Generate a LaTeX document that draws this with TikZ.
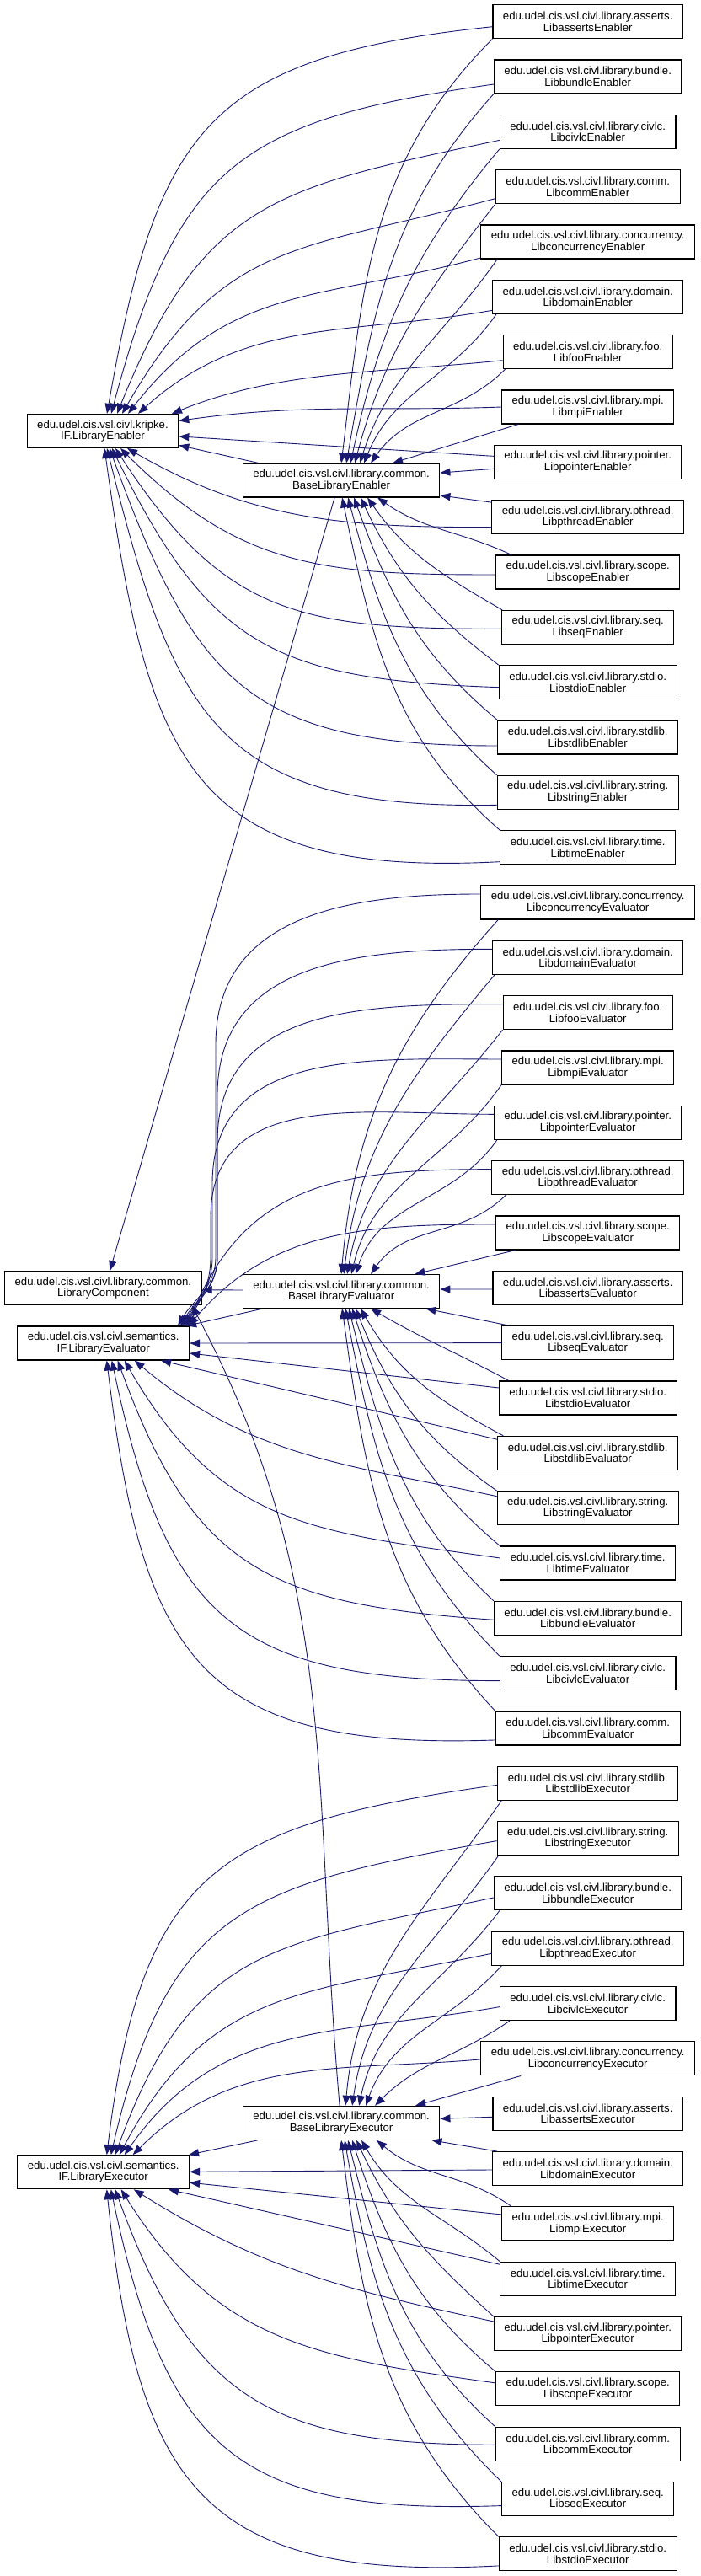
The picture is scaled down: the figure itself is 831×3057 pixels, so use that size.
\documentclass[tikz,border=0pt]{standalone}
\usepackage{fontspec}
\setmainfont{Liberation Sans}
\usetikzlibrary{calc,arrows.meta}
\definecolor{edgeblue}{RGB}{25,25,112}
\begin{document}
\begin{tikzpicture}[x=1pt,y=1pt,
  cls/.style={draw=black,line width=1.1pt,fill=white,align=center,
    font=\fontsize{13.2}{13.6}\selectfont,inner xsep=12pt,inner ysep=0pt,minimum height=40pt},
  inh/.style={draw=edgeblue,line width=0.9pt,-{Triangle[length=12pt,width=9pt]}}]
\useasboundingbox (0,0) rectangle (831,-3057);
% ---------- right column ----------
\foreach \nm/\k/\pk/\cl in {
en0/0/asserts/LibassertsEnabler, en1/1/bundle/LibbundleEnabler, en2/2/civlc/LibcivlcEnabler,
en3/3/comm/LibcommEnabler, en4/4/concurrency/LibconcurrencyEnabler, en5/5/domain/LibdomainEnabler,
en6/6/foo/LibfooEnabler, en7/7/mpi/LibmpiEnabler, en8/8/pointer/LibpointerEnabler,
en9/9/pthread/LibpthreadEnabler, en10/10/scope/LibscopeEnabler, en11/11/seq/LibseqEnabler,
en12/12/stdio/LibstdioEnabler, en13/13/stdlib/LibstdlibEnabler, en14/14/string/LibstringEnabler,
en15/15/time/LibtimeEnabler,
ev0/16/concurrency/LibconcurrencyEvaluator, ev1/17/domain/LibdomainEvaluator, ev2/18/foo/LibfooEvaluator,
ev3/19/mpi/LibmpiEvaluator, ev4/20/pointer/LibpointerEvaluator, ev5/21/pthread/LibpthreadEvaluator,
ev6/22/scope/LibscopeEvaluator, ev7/23/asserts/LibassertsEvaluator, ev8/24/seq/LibseqEvaluator,
ev9/25/stdio/LibstdioEvaluator, ev10/26/stdlib/LibstdlibEvaluator, ev11/27/string/LibstringEvaluator,
ev12/28/time/LibtimeEvaluator, ev13/29/bundle/LibbundleEvaluator, ev14/30/civlc/LibcivlcEvaluator,
ev15/31/comm/LibcommEvaluator,
ex0/32/stdlib/LibstdlibExecutor, ex1/33/string/LibstringExecutor, ex2/34/bundle/LibbundleExecutor,
ex3/35/pthread/LibpthreadExecutor, ex4/36/civlc/LibcivlcExecutor, ex5/37/concurrency/LibconcurrencyExecutor,
ex6/38/asserts/LibassertsExecutor, ex7/39/domain/LibdomainExecutor, ex8/40/mpi/LibmpiExecutor,
ex9/41/time/LibtimeExecutor, ex10/42/pointer/LibpointerExecutor, ex11/43/scope/LibscopeExecutor,
ex12/44/comm/LibcommExecutor, ex13/45/seq/LibseqExecutor, ex14/46/stdio/LibstdioExecutor}
  \node[cls] (\nm) at (697.7,{-25.7-65.33*\k}) {edu.udel.cis.vsl.civl.library.\pk.\\\cl};
% ---------- left nodes ----------
\node[cls] (ifen) at (122,-511.4) {edu.udel.cis.vsl.civl.kripke.\\IF.LibraryEnabler};
\node[cls] (ben) at (405.1,-570) {edu.udel.cis.vsl.civl.library.common.\\BaseLibraryEnabler};
\node[cls] (lc) at (122.4,-1528.7) {edu.udel.cis.vsl.civl.library.common.\\LibraryComponent};
\node[cls] (iev) at (122.7,-1594) {edu.udel.cis.vsl.civl.semantics.\\IF.LibraryEvaluator};
\node[cls] (bev) at (405.1,-1532.5) {edu.udel.cis.vsl.civl.library.common.\\BaseLibraryEvaluator};
\node[cls] (iex) at (122.7,-2577.7) {edu.udel.cis.vsl.civl.semantics.\\IF.LibraryExecutor};
\node[cls] (bex) at (405.1,-2519.3) {edu.udel.cis.vsl.civl.library.common.\\BaseLibraryExecutor};

% ================= Enabler group =================
\foreach \cn/\sy/\ou/\dx/\ia/\lo in {en0/-6/186/5/80/1.35, en1/-9/188/10/75/1.3, en2/-10/192/17/68/1.25,
  en3/-14/195/23/60/1.2, en4/-19/195/30/52/1.1, en5/-16/190/42/42/1.0, en6/-10/186/82/22/0.9}
  \draw[inh] ($(\cn.west)+(0,\sy)$) to[out=\ou,in=\ia,looseness=\lo] ($(ifen.north)+(\dx,0)$);
\draw[inh] (en7.west) to[out=182,in=8] ($(ifen.east)+(0,12)$);
\draw[inh] ($(en8.west)+(0,7)$) -- ($(ifen.east)+(0,-6.5)$);
\draw[inh] ($(ben.north west)+(19,0)$) -- ($(ifen.east)+(0,-17)$);
\foreach \cn/\sy/\ou/\dx/\ia/\lo in {en9/-12/180/29/-30/1.0, en10/-3/180/21/-45/1.1, en11/-2/180/15/-57/1.2,
  en12/-6/178/11/-64/1.25, en13/-10/180/8/-70/1.3, en14/-15/181/5/-76/1.35, en15/-17/183/2/-82/1.4}
  \draw[inh] ($(\cn.west)+(0,\sy)$) to[out=\ou,in=\ia,looseness=\lo] ($(ifen.south)+(\dx,0)$);
\foreach \cn/\xo/\ou/\dx/\ia in {en0/0/225/0/83, en1/0/228/6/80, en2/0/230/11/78, en3/0/232/16/75,
  en4/20/235/22/72, en5/5/235/27/68, en6/3/225/35/55}
  \draw[inh] ($(\cn.south west)+(\xo,0)$) to[out=\ou,in=\ia] ($(ben.north)+(\dx,0)$);
\draw[inh] ($(en7.south west)+(20,0)$) -- ($(ben.north)+(61,0)$);
\draw[inh] ($(en8.west)+(0,-8)$) -- ($(ben.east)+(0,9)$);
\draw[inh] ($(en9.north west)+(0,-3)$) -- ($(ben.east)+(0,-18)$);
\foreach \cn/\xo/\ou/\dx/\ia in {en10/19/155/43/-35, en11/1/150/31/-55, en12/0/143/23/-65,
  en13/0/140/15/-70, en14/0/138/8/-75, en15/0/139/1/-78}
  \draw[inh] ($(\cn.north west)+(\xo,0)$) to[out=\ou,in=\ia] ($(ben.south)+(\dx,0)$);
\draw[inh] ($(ben.south)+(-8,0)$) -- ($(lc.north)+(8,0)$);

% ================= Evaluator group =================
\foreach \cn/\xv/\yt/\dx in {ev0/256/-1240/14, ev1/258/-1300/11, ev2/258/-1355/9, ev3/252/-1405/7, ev4/250/-1445/5}
  \draw[inh] ($(\cn.west)+(0,10)$) to[out=180,in=90,looseness=1.1] (\xv,\yt) -- (\xv,-1492)
    to[out=-90,in=60] ($(iev.north east)+(-\dx,0)$);
\draw[inh] ($(ev5.west)+(0,10)$) to[out=180,in=68,looseness=1.15] ($(iev.north east)+(-3,0)$);
\draw[inh] ($(ev6.west)+(0,10)$) to[out=180,in=50] ($(iev.north east)+(-1,0)$);
\draw[inh] ($(bev.south west)+(24,0)$) -- ($(iev.north east)+(-4,0)$);
\draw[inh] ($(bev.west)+(0,1.5)$) -- ($(lc.east)+(0,-2)$);
\foreach \cn/\xo/\ou/\dx/\ia in {ev0/21/228/0/85, ev1/3/230/3/83, ev2/0/232/7/80, ev3/0/235/12/77,
  ev4/4/235/17/72, ev5/17/225/35/55}
  \draw[inh] ($(\cn.south west)+(\xo,0)$) to[out=\ou,in=\ia] ($(bev.north)+(\dx,0)$);
\draw[inh] ($(ev6.south west)+(24,0)$) -- ($(bev.north east)+(-30,0)$);
\draw[inh] ($(ev7.west)+(0,-1.7)$) -- ($(bev.east)+(0,2.5)$);
\draw[inh] (ev8.west) -- (iev.east);
\draw[inh] ($(ev8.north west)+(9,0)$) -- ($(bev.south east)+(-17,0)$);
\draw[inh] ($(ev9.west)+(0,12)$) -- ($(iev.east)+(0,-12)$);
\draw[inh] ($(ev9.north west)+(12,0)$) to[out=152,in=-30] ($(bev.south)+(35,0)$);
\draw[inh] ($(ev10.west)+(0,16)$) -- ($(iev.south east)+(-34,0)$);
\foreach \cn/\sy/\ou/\dx/\ia/\lo in {ev11/14/168/37/-40/1.0, ev12/6/172/25/-60/1.15, ev13/-2/176/17/-70/1.25,
  ev14/-9/180/10/-78/1.35, ev15/-14/182/4/-83/1.4}
  \draw[inh] ($(\cn.west)+(0,\sy)$) to[out=\ou,in=\ia,looseness=\lo] ($(iev.south)+(\dx,0)$);
\foreach \cn/\xo/\ou/\dx/\ia in {ev10/7/152/23/-60, ev11/0/145/17/-68, ev12/0/140/13/-72,
  ev13/0/137/9/-76, ev14/0/135/5/-79, ev15/0/133/1/-82}
  \draw[inh] ($(\cn.north west)+(\xo,0)$) to[out=\ou,in=\ia] ($(bev.south)+(\dx,0)$);

% ================= Executor group =================
\draw[inh] ($(bex.north)+(-2,0)$) to[out=95,in=-62] ($(lc.south east)+(-12,0)$);
\foreach \cn/\sy/\ou/\dx/\ia/\lo in {ex0/-2/188/4/83/1.35, ex1/-3/190/9/77/1.3, ex2/-5/192/14/70/1.25,
  ex3/-6/192/19/62/1.15, ex4/-4/190/25/55/1.05, ex5/-1/185/35/45/1.0}
  \draw[inh] ($(\cn.west)+(0,\sy)$) to[out=\ou,in=\ia,looseness=\lo] ($(iex.north)+(\dx,0)$);
\draw[inh] ($(bex.south west)+(18,0)$) -- ($(iex.north east)+(-1,0)$);
\foreach \cn/\xo/\ou/\dx/\ia in {ex0/5/235/5/85, ex1/2/235/13/82, ex2/7/233/21/78, ex3/12/228/29/70, ex4/12/215/40/45}
  \draw[inh] ($(\cn.south west)+(\xo,0)$) to[out=\ou,in=\ia] ($(bex.north)+(\dx,0)$);
\draw[inh] ($(ex5.south west)+(48,0)$) -- ($(bex.north)+(88,0)$);
\draw[inh] ($(ex6.west)+(0,-4)$) -- ($(bex.east)+(0,5)$);
\draw[inh] ($(ex7.west)+(0,-1.4)$) -- ($(iex.east)+(0,0.4)$);
\draw[inh] ($(ex7.north west)+(6,0)$) -- ($(bex.south east)+(-10,0)$);
\draw[inh] ($(ex8.west)+(0,11)$) -- ($(iex.east)+(0,-12.5)$);
\draw[inh] ($(ex8.north west)+(12,0)$) to[out=145,in=-40] ($(bex.south)+(42,0)$);
\draw[inh] ($(ex9.west)+(0,17)$) -- ($(iex.south east)+(-25,0)$);
\draw[inh] (ex9.north west) to[out=140,in=-60] ($(bex.south)+(24,0)$);
\draw[inh] ($(ex10.west)+(0,14.6)$) to[out=168,in=-32] ($(iex.south)+(36,0)$);
\draw[inh] ($(ex11.west)+(0,7)$) to[out=172,in=-58,looseness=1.1] ($(iex.south)+(21,0)$);
\foreach \cn/\sy/\ou/\dx/\ia/\lo in {ex12/-1/180/14/-70/1.25, ex13/-8/182/9/-78/1.35, ex14/-14/183/4/-84/1.4}
  \draw[inh] ($(\cn.west)+(0,\sy)$) to[out=\ou,in=\ia,looseness=\lo] ($(iex.south)+(\dx,0)$);
\foreach \cn/\xo/\ou/\dx/\ia in {ex10/0/138/18/-65, ex11/0/140/13/-72, ex12/0/138/8/-76,
  ex13/0/136/4/-80, ex14/0/135/0/-83}
  \draw[inh] ($(\cn.north west)+(\xo,0)$) to[out=\ou,in=\ia] ($(bex.south)+(\dx,0)$);
\end{tikzpicture}
\end{document}
